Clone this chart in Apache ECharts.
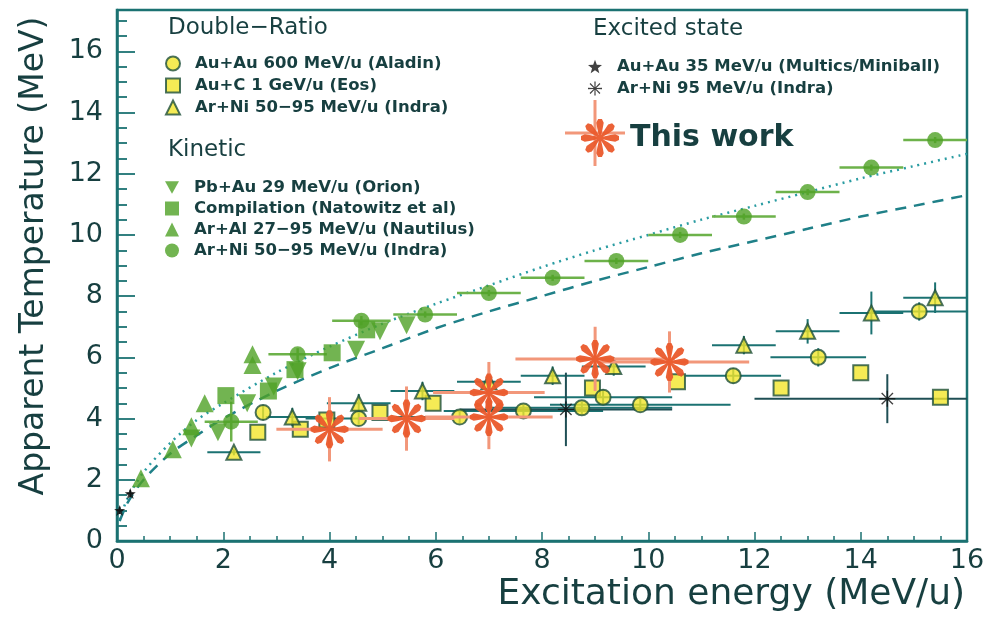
<!DOCTYPE html>
<html><head><meta charset="utf-8">
<script src="https://cdn.jsdelivr.net/npm/echarts@6/dist/echarts.min.js"></script>
<style>html,body{margin:0;padding:0;background:#fff}#c{width:990px;height:619px}</style>
</head><body><div id="c"></div>
<script>
// ---------- data ----------
const xTicks = [0, 2, 4, 6, 8, 10, 12, 14, 16];
const yTicks = [0, 2, 4, 6, 8, 10, 12, 14, 16];

// Double-Ratio
const aladinX    = [2.75, 4.55, 6.45, 7.65, 8.75, 9.15, 9.85, 11.6, 13.2, 15.1];
const aladinY    = [4.2, 4.0, 4.05, 4.25, 4.35, 4.7, 4.45, 5.4, 6.0, 7.5];
const aladinXErr = [0, 1.0, 1.2, 1.5, 1.7, 1.3, 1.7, 0.9, 0.9, 0.9];
const aladinYErr = [0.25, 0.2, 0.2, 0.2, 0.2, 0.25, 0.2, 0.25, 0.3, 0.3];

const eosX = [2.65, 3.45, 3.95, 4.95, 5.95, 8.95, 10.55, 12.5, 14.0, 15.5];
const eosY = [3.55, 3.65, 3.95, 4.2, 4.5, 5.0, 5.2, 5.0, 5.5, 4.7];

const indraDRX    = [2.2, 3.3, 4.55, 5.75, 7.0, 8.2, 9.35, 11.8, 13.0, 14.2, 15.4];
const indraDRY    = [2.9, 4.05, 4.5, 4.9, 5.2, 5.4, 5.7, 6.4, 6.85, 7.45, 7.95];
const indraDRXErr = [0.5, 0.5, 0.6, 0.6, 0.6, 0.6, 0.6, 0.6, 0.6, 0.6, 0.6];
const indraDRYErr = [0.1, 0.3, 0.3, 0.3, 0.3, 0.3, 0.3, 0.3, 0.4, 0.7, 0.5];

// Kinetic
const orionX = [1.4, 1.9, 2.45, 2.95, 3.4, 4.5, 4.95, 5.45];
const orionY = [3.35, 3.55, 4.5, 5.05, 5.55, 6.25, 6.85, 7.05];

const natowitzX = [2.05, 2.85, 3.35, 4.05, 4.7];
const natowitzY = [4.75, 4.9, 5.6, 6.15, 6.9];

const nautilusX = [0.45, 1.05, 1.4, 1.65, 2.55, 2.55];
const nautilusY = [2.05, 3.0, 3.75, 4.5, 5.75, 6.1];

const indraKinX    = [2.15, 3.4, 4.6, 5.8, 7.0, 8.2, 9.4, 10.6, 11.8, 13.0, 14.2, 15.4];
const indraKinY    = [3.9, 6.1, 7.2, 7.4, 8.1, 8.6, 9.15, 10.0, 10.6, 11.4, 12.2, 13.1];
const indraKinXErr = [0.5, 0.55, 0.55, 0.6, 0.6, 0.6, 0.6, 0.6, 0.6, 0.6, 0.6, 0.6];
const indraKinYErr = [0.65, 0.2, 0.15, 0.1, 0.1, 0.1, 0.1, 0.1, 0.1, 0.1, 0.1, 0.1];

// Excited state
const multicsX = [0.05, 0.25];
const multicsY = [1.0, 1.55];

const indraExX    = [8.45, 14.5];
const indraExY    = [4.3, 4.65];
const indraExXErr = [2.0, 2.5];
const indraExYErr = [1.2, 0.8];

// This work
const workX    = [4.0, 5.45, 7.0, 7.0, 9.0, 10.4];
const workY    = [3.65, 4.0, 4.05, 4.85, 5.95, 5.85];
const workXErr = [1.0, 0.9, 1.2, 1.05, 1.5, 1.5];
const workYErr = [1.05, 1.05, 1.05, 1.0, 1.05, 1.0];

// Reference curves
const curveX     = [0.05, 0.2, 0.5, 1, 1.5, 2, 3, 4, 5, 6, 7, 8, 9, 10, 11, 12, 13, 14, 15, 16];
const dottedY    = [0.7, 1.4, 2.25, 3.2, 3.95, 4.5, 5.5, 6.35, 7.1, 7.75, 8.35, 8.95, 9.5, 10.0, 10.5, 10.95, 11.4, 11.85, 12.25, 12.65];
const dashedY    = [0.65, 1.25, 2.0, 2.85, 3.45, 4.0, 4.9, 5.65, 6.3, 6.95, 7.5, 8.0, 8.5, 8.95, 9.4, 9.8, 10.2, 10.6, 10.95, 11.3];

// ---------- names ----------
const N_ALADIN = 'Au+Au 600 MeV/u (Aladin)';
const N_EOS = 'Au+C 1 GeV/u (Eos)';
const N_INDRA_DR = 'Ar+Ni 50\u221295 MeV/u (Indra)';
const N_ORION = 'Pb+Au 29 MeV/u (Orion)';
const N_NATO = 'Compilation (Natowitz et al)';
const N_NAUT = 'Ar+Al 27\u221295 MeV/u (Nautilus)';
const N_INDRA_K = 'Ar+Ni 50\u221295 MeV/u (Indra)\u200b';
const N_MULT = 'Au+Au 35 MeV/u (Multics/Miniball)';
const N_INDRA_EX = 'Ar+Ni 95 MeV/u (Indra)';
const N_WORK = 'This work';

// ---------- symbol shapes ----------
function polyPath(pts) {
  return 'path://' + pts.map((p, i) => (i ? 'L' : 'M') + (50 + 50 * p[0]).toFixed(2) + ' ' + (50 + 50 * p[1]).toFixed(2)).join(' ') + ' Z';
}
function petalStar() {
  const pts = [];
  for (let i = 0; i < 8; i++) {
    const a = i * Math.PI / 4;
    const pa = [[0.16, a - Math.PI / 8], [0.5, a - 0.28], [0.82, a - 0.24], [1, a - 0.1], [1, a + 0.1], [0.82, a + 0.24], [0.5, a + 0.28]];
    pa.forEach(([r, t]) => pts.push([r * Math.cos(t), r * Math.sin(t)]));
  }
  return polyPath(pts);
}
function thinAsterisk() {
  const pts = [];
  for (let i = 0; i < 8; i++) {
    const a = i * Math.PI / 4;
    [[1, a - 0.09], [1, a + 0.09], [0.2, a + Math.PI / 8]].forEach(([r, t]) => pts.push([r * Math.cos(t), r * Math.sin(t)]));
  }
  return polyPath(pts);
}
function fiveStar() {
  const pts = [];
  for (let i = 0; i < 10; i++) {
    const r = i % 2 ? 0.42 : 1;
    const t = -Math.PI / 2 + i * Math.PI / 5;
    pts.push([r * Math.cos(t), r * Math.sin(t)]);
  }
  return polyPath(pts);
}
const downTriangle = 'path://M0 0 L100 0 L50 90 Z';

const zip = (xs, ys) => xs.map((x, i) => [x, ys[i]]);

function errSeries(id, xs, ys, xe, ye, color, width, z) {
  return {
    type: 'custom', id: id, silent: true, z: z, clip: true,
    data: xs.map((x, i) => [x, ys[i], Math.max(0, x - xe[i]), Math.min(16, x + xe[i]), ys[i] - ye[i], ys[i] + ye[i]]),
    encode: { x: [0, 2, 3], y: [1, 4, 5] },
    renderItem: function (params, api) {
      const c = api.coord([api.value(0), api.value(1)]);
      const l = api.coord([api.value(2), api.value(1)]);
      const r = api.coord([api.value(3), api.value(1)]);
      const b = api.coord([api.value(0), api.value(4)]);
      const t = api.coord([api.value(0), api.value(5)]);
      const style = { stroke: color, lineWidth: width, fill: null };
      return {
        type: 'group', children: [
          { type: 'line', shape: { x1: l[0], y1: c[1], x2: r[0], y2: c[1] }, style: style },
          { type: 'line', shape: { x1: c[0], y1: b[1], x2: c[0], y2: t[1] }, style: style }
        ]
      };
    }
  };
}

const TEAL = '#1b7272';
const TXT = '#173f40';
const GREEN = '#4fa126';
const YEL = '#f2e62a';
const OUT = '#1d4f3a';
const ORANGE = '#ea5a2c';
const SALMON = '#f2977a';
const FONT = '"DejaVu Sans", sans-serif';

const chart = echarts.init(document.getElementById('c'));

const legText = { fontFamily: FONT, fontSize: 16.5, fontWeight: 'bold', color: TXT, padding: [0, 0, 0, 10] };

const option = {
  animation: false,
  backgroundColor: '#fff',
  grid: { left: 117, right: 23, top: 10, bottom: 78, show: true, borderColor: TEAL, borderWidth: 2.5, backgroundColor: 'transparent' },
  xAxis: {
    type: 'value', min: 0, max: 16, interval: 2,
    axisLine: { lineStyle: { color: TEAL, width: 2.5 } },
    axisTick: { inside: true, length: 9, lineStyle: { color: TEAL, width: 1.5 } },
    minorTick: { show: true, splitNumber: 4, length: 5, lineStyle: { color: TEAL, width: 1.5 } },
    splitLine: { show: false },
    axisLabel: { fontFamily: FONT, fontSize: 27, color: TXT, margin: 6,
      formatter: v => (xTicks.indexOf(v) >= 0 ? String(v) : '') }
  },
  yAxis: {
    type: 'value', min: 0, max: 17.35, interval: 2,
    axisLine: { lineStyle: { color: TEAL, width: 2.5 } },
    axisTick: { inside: true, length: 18, lineStyle: { color: TEAL, width: 1.8 } },
    minorTick: { show: true, splitNumber: 4, length: 10, lineStyle: { color: TEAL, width: 1.8 } },
    splitLine: { show: false },
    axisLabel: { fontFamily: FONT, fontSize: 27, color: TXT, margin: 14, showMaxLabel: false,
      formatter: v => (yTicks.indexOf(v) >= 0 ? String(v) : '') }
  },
  legend: [
    { left: 160, top: 50, orient: 'vertical', itemWidth: 14, itemHeight: 14, itemGap: 5,
      data: [N_ALADIN, N_EOS, N_INDRA_DR], textStyle: legText, selectedMode: false },
    { left: 160, top: 174, orient: 'vertical', itemWidth: 14, itemHeight: 14, itemGap: 4,
      data: [N_ORION, N_NATO, N_NAUT, N_INDRA_K], textStyle: legText, selectedMode: false },
    { left: 583, top: 53, orient: 'vertical', itemWidth: 14, itemHeight: 14, itemGap: 5,
      data: [N_MULT, N_INDRA_EX], textStyle: legText, selectedMode: false },
    { left: 576, top: 114, orient: 'vertical', itemWidth: 38, itemHeight: 38,
      data: [N_WORK], selectedMode: false,
      textStyle: { fontFamily: FONT, fontSize: 30, fontWeight: 'bold', color: TXT, padding: [0, 0, 0, 6] } }
  ],
  graphic: [
    { type: 'text', left: 168, top: 17, style: { text: 'Double\u2212Ratio', font: '23px ' + FONT, fill: TXT } },
    { type: 'text', left: 168, top: 139, style: { text: 'Kinetic', font: '23px ' + FONT, fill: TXT } },
    { type: 'text', left: 593, top: 18, style: { text: 'Excited state', font: '23px ' + FONT, fill: TXT } },
    { type: 'line', z: -1, shape: { x1: 595, y1: 100, x2: 595, y2: 166 }, style: { stroke: SALMON, lineWidth: 3 } },
    { type: 'line', z: -1, shape: { x1: 565, y1: 133, x2: 625, y2: 133 }, style: { stroke: SALMON, lineWidth: 3 } },
    { type: 'text', right: 25, top: 577, style: { text: 'Excitation energy (MeV/u)', font: '36px ' + FONT, fill: TXT } },
    { type: 'text', x: 34, y: 256, rotation: Math.PI / 2,
      style: { text: 'Apparent Temperature (MeV)', font: '33px ' + FONT, fill: TXT, textAlign: 'center', textVerticalAlign: 'middle' } }
  ],
  series: [
    { type: 'line', id: 'dotted', data: zip(curveX, dottedY), smooth: 0.3, symbol: 'none', silent: true, z: 1,
      lineStyle: { color: '#2a9ca2', width: 2.5, type: [2, 5] } },
    { type: 'line', id: 'dashed', data: zip(curveX, dashedY), smooth: 0.3, symbol: 'none', silent: true, z: 1,
      lineStyle: { color: '#1f8088', width: 2.5, type: [11, 8] } },

    errSeries('eAladin', aladinX, aladinY, aladinXErr, aladinYErr, TEAL, 2, 2),
    errSeries('eIndraDR', indraDRX, indraDRY, indraDRXErr, indraDRYErr, TEAL, 2, 2),
    errSeries('eIndraK', indraKinX, indraKinY, indraKinXErr, indraKinYErr, '#6db24a', 2.5, 2),
    errSeries('eMult', multicsX, multicsY, [0.06, 0.06], [0.12, 0.12], '#1a2a2a', 1.5, 2),
    errSeries('eIndraEx', indraExX, indraExY, indraExXErr, indraExYErr, '#1f4f55', 2, 2),

    { type: 'scatter', name: N_NAUT, data: zip(nautilusX, nautilusY), symbol: 'triangle', symbolSize: 18, z: 4,
      itemStyle: { color: GREEN } },
    { type: 'scatter', name: N_ORION, data: zip(orionX, orionY), symbol: downTriangle, symbolSize: 18, z: 4,
      itemStyle: { color: GREEN } },
    { type: 'scatter', name: N_NATO, data: zip(natowitzX, natowitzY), symbol: 'rect', symbolSize: 17, z: 4,
      itemStyle: { color: GREEN } },
    { type: 'scatter', name: N_INDRA_K, data: zip(indraKinX, indraKinY), symbol: 'circle', symbolSize: 16, z: 4,
      itemStyle: { color: GREEN } },

    { type: 'scatter', name: N_EOS, data: zip(eosX, eosY), symbol: 'rect', symbolSize: 15, z: 5,
      itemStyle: { color: YEL, borderColor: OUT, borderWidth: 2 } },
    { type: 'scatter', name: N_ALADIN, data: zip(aladinX, aladinY), symbol: 'circle', symbolSize: 15, z: 5,
      itemStyle: { color: YEL, borderColor: OUT, borderWidth: 2 } },
    { type: 'scatter', name: N_INDRA_DR, data: zip(indraDRX, indraDRY), symbol: 'triangle', symbolSize: 15, z: 5,
      itemStyle: { color: YEL, borderColor: OUT, borderWidth: 2 } },

    { type: 'scatter', name: N_MULT, data: zip(multicsX, multicsY), symbol: fiveStar(), symbolSize: 11, z: 6,
      itemStyle: { color: '#111' } },
    { type: 'scatter', name: N_INDRA_EX, data: zip(indraExX, indraExY), symbol: thinAsterisk(), symbolSize: 16, z: 6,
      itemStyle: { color: '#111' } },

    errSeries('eWork', workX, workY, workXErr, workYErr, SALMON, 3, 7),
    { type: 'scatter', name: N_WORK, data: zip(workX, workY), symbol: petalStar(), symbolSize: 38, z: 8,
      itemStyle: { color: ORANGE, opacity: 0.95 } }
  ]
};
chart.setOption(option);
</script>
</body></html>
